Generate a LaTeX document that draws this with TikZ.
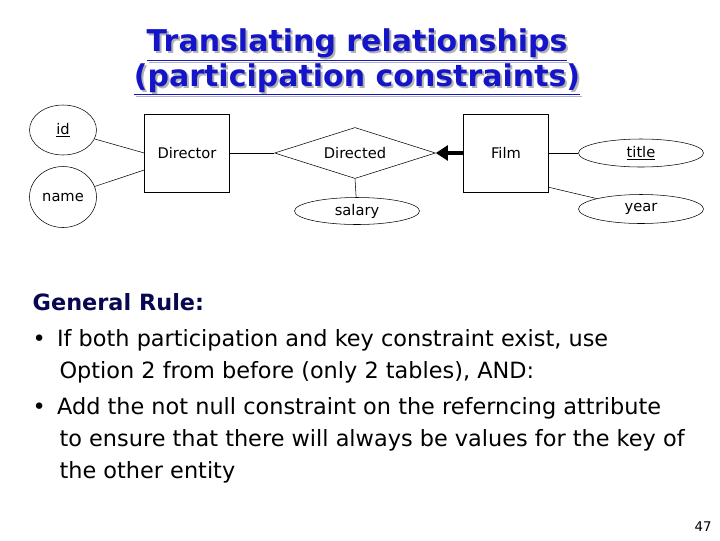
\documentclass[tikz,border=0pt]{standalone}
\usepackage{fontspec}
\setmainfont{DejaVu Sans}
\usetikzlibrary{shapes.geometric}
\usetikzlibrary{arrows.meta}
\definecolor{titleblue}{RGB}{20,20,200}
\tikzstyle{entity} = [draw, rectangle, minimum width=85*0.75pt, minimum height=78*0.75pt, font=\fontsize{11}{13}\selectfont]
\tikzstyle{attr} = [draw, ellipse, inner sep=0pt, font=\fontsize{11}{13}\selectfont]
\tikzstyle{relation} = [draw, diamond, aspect=3.1, inner sep=0pt, minimum width=161*0.75pt, minimum height=51*0.75pt, font=\fontsize{11}{13}\selectfont]
\tikzstyle{bodytext} = [anchor=west, align=left, font=\fontsize{16.8}{24}\selectfont]

\begin{document}
\begin{tikzpicture}[x=0.75pt, y=-0.75pt]
\useasboundingbox (0,0) rectangle (720,540);

% title with shadow
\foreach \dx/\col in {2/gray!60, 0/titleblue}{
  \node[font=\fontsize{22.5}{26}\bfseries\selectfont, text=\col, align=center] at (357+\dx,62+\dx)
    {\underline{Translating relationships}\\\underline{(participation constraints)}};
}

% ER diagram
\node[attr, minimum width=67*0.75pt, minimum height=50*0.75pt] (id) at (63,130) {\underline{id}};
\node[attr, minimum width=67*0.75pt, minimum height=61*0.75pt] (name) at (63,197) {name};
\node[entity] (director) at (187,153) {Director};
\node[relation] (directed) at (355,153) {Directed};
\node[entity] (film) at (506,153) {Film};
\node[attr, minimum width=125*0.75pt, minimum height=28*0.75pt] (title) at (641,153) {\underline{title}};
\node[attr, minimum width=125*0.75pt, minimum height=29*0.75pt] (year) at (641,209) {year};
\node[attr, minimum width=125*0.75pt, minimum height=27*0.75pt] (salary) at (357,211) {salary};

\draw (id) -- (director.west);
\draw (name) -- ([yshift=-17*0.75pt]director.west);
\draw (director) -- (directed);
\draw[line width=3pt, -{Triangle[length=9pt, width=11pt]}] (film.west) -- (directed.east);
\draw (directed.south) -- (salary);
\draw (film) -- (title);
\draw ([yshift=5*0.75pt]film.south east) -- (year);

% text
\node[bodytext, text=titleblue!40!black, font=\fontsize{16.8}{24}\bfseries\selectfont] (rule) at (28,302) {General Rule:};
\node[bodytext] (item1) at (28,356) {•\hspace{0.5em}If both participation and key constraint exist, use\\\hspace{1.2em}Option 2 from before (only 2 tables), AND:};
\node[bodytext] (item2) at (28,440) {•\hspace{0.5em}Add the not null constraint on the referncing attribute\\\hspace{1.2em}to ensure that there will always be values for the key of\\\hspace{1.2em}the other entity};
\node[font=\fontsize{10}{12}\selectfont] (page) at (703,527) {47};
\end{tikzpicture}
\end{document}
